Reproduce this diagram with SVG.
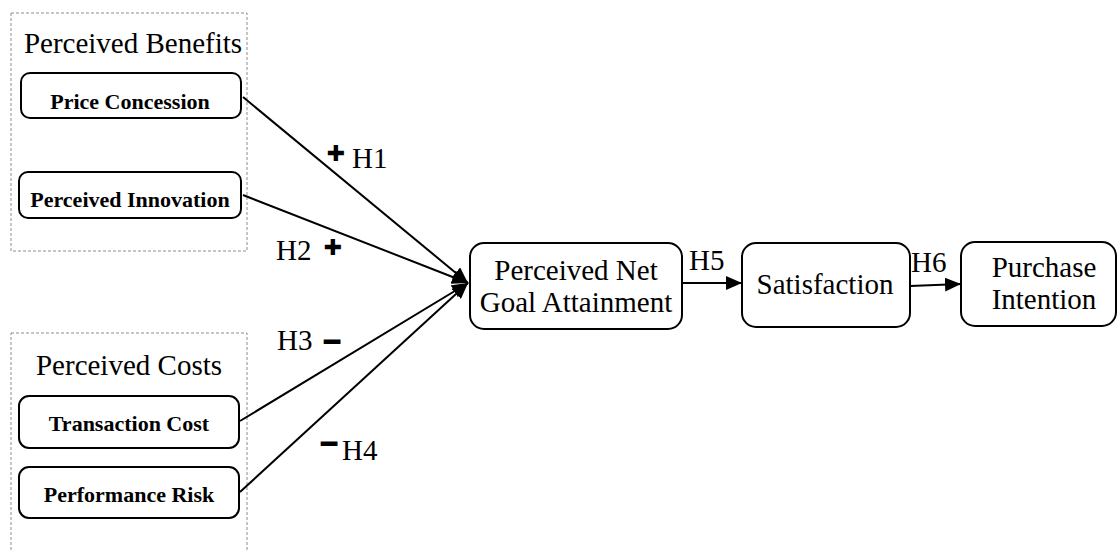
<svg xmlns="http://www.w3.org/2000/svg" width="1118" height="550" viewBox="0 0 1118 550">
<defs>
<style>
.grp{fill:none;stroke:#8c8c8c;stroke-width:1;stroke-dasharray:3 2}
.box{fill:#fff;stroke:#000;stroke-width:2}
.t{font-family:"Liberation Serif","Times New Roman",serif;font-size:29px;fill:#000;text-anchor:middle}
.tb{font-family:"Liberation Serif","Times New Roman",serif;font-size:22px;font-weight:bold;fill:#000;text-anchor:middle}
.h{font-family:"Liberation Serif","Times New Roman",serif;font-size:29px;fill:#000}
.pl{font-family:"DejaVu Sans",sans-serif;font-size:22px;fill:#000;text-anchor:middle}
.mn{font-family:"DejaVu Sans",sans-serif;font-size:27px;fill:#000;text-anchor:middle}
.ln{stroke:#000;stroke-width:2;fill:none}
</style>
<marker id="ah" viewBox="0 0 16 14" refX="16" refY="7" markerWidth="16" markerHeight="14" markerUnits="userSpaceOnUse" orient="auto">
<path d="M0,0 L16,7 L0,14 Z" fill="#000"/>
</marker>
</defs>
<rect width="1118" height="550" fill="#fff"/>
<g id="perceived-benefits">
<rect class="grp" x="11" y="13" width="236" height="238"/>
<text class="t" x="133" y="53">Perceived Benefits</text>
</g>
<g id="perceived-costs">
<rect class="grp" x="11" y="333" width="236" height="230"/>
<text class="t" x="129" y="375">Perceived Costs</text>
</g>
<g id="connectors">
<line class="ln" x1="243" y1="97" x2="468" y2="283" marker-end="url(#ah)"/>
<line class="ln" x1="243" y1="195" x2="468" y2="283" marker-end="url(#ah)"/>
<line class="ln" x1="240" y1="421" x2="468" y2="283" marker-end="url(#ah)"/>
<line class="ln" x1="240" y1="492" x2="468" y2="283" marker-end="url(#ah)"/>
<line class="ln" x1="682" y1="283" x2="742" y2="283" marker-end="url(#ah)"/>
<line class="ln" x1="910" y1="286" x2="961" y2="284" marker-end="url(#ah)"/>
<text class="pl" x="336" y="161">✚</text>
<text class="h" x="352" y="168">H1</text>
<text class="h" x="276" y="260">H2</text>
<text class="pl" x="333" y="255">✚</text>
<text class="h" x="277" y="350">H3</text>
<text class="mn" x="332" y="351">━</text>
<text class="mn" x="329" y="453">━</text>
<text class="h" x="342" y="460">H4</text>
<text class="h" x="689" y="270">H5</text>
<text class="h" x="911" y="272">H6</text>
</g>
<g id="price-concession">
<rect class="box" x="21" y="73" width="220" height="45" rx="9"/>
<text class="tb" x="130" y="109">Price Concession</text>
</g>
<g id="perceived-innovation">
<rect class="box" x="19" y="172" width="222" height="46" rx="9"/>
<text class="tb" x="130" y="207">Perceived Innovation</text>
</g>
<g id="transaction-cost">
<rect class="box" x="19" y="396" width="220" height="52" rx="10"/>
<text class="tb" x="129" y="431">Transaction Cost</text>
</g>
<g id="performance-risk">
<rect class="box" x="19" y="467" width="220" height="51" rx="10"/>
<text class="tb" x="129" y="502">Performance Risk</text>
</g>
<g id="net-goal-attainment">
<rect class="box" x="470" y="243" width="212" height="86" rx="14"/>
<text class="t" x="576" y="280">Perceived Net</text>
<text class="t" x="576" y="312">Goal Attainment</text>
</g>
<g id="satisfaction">
<rect class="box" x="742" y="243" width="168" height="84" rx="14"/>
<text class="t" x="825" y="294">Satisfaction</text>
</g>
<g id="purchase-intention">
<rect class="box" x="961" y="242" width="155" height="84" rx="14"/>
<text class="t" x="1044" y="277">Purchase</text>
<text class="t" x="1044" y="309">Intention</text>
</g>
</svg>
